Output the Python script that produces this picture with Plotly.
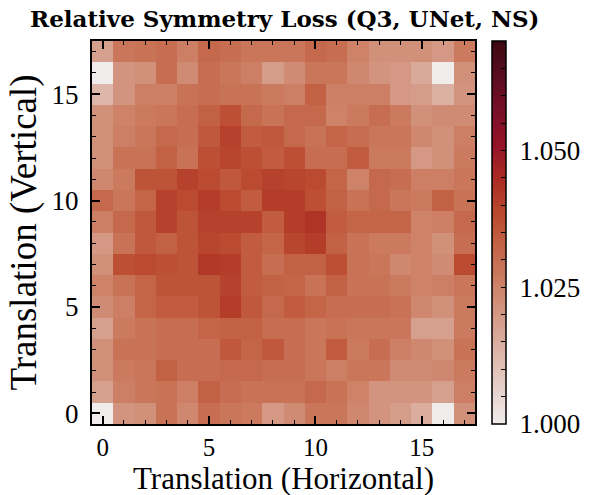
import plotly.graph_objects as go

x_vals = list(range(18))
y_vals = list(range(18))

row_00 = [1.000,1.021,1.022,1.029,1.024,1.030,1.028,1.027,1.020,1.023,1.028,1.028,1.024,1.021,1.019,1.015,1.000,1.022]
row_01 = [1.018,1.026,1.028,1.029,1.026,1.033,1.030,1.029,1.029,1.029,1.031,1.029,1.025,1.021,1.021,1.021,1.018,1.026]
row_02 = [1.022,1.027,1.028,1.033,1.030,1.030,1.031,1.031,1.030,1.030,1.028,1.026,1.028,1.028,1.023,1.023,1.024,1.027]
row_03 = [1.022,1.029,1.029,1.030,1.030,1.030,1.035,1.032,1.035,1.030,1.028,1.034,1.027,1.030,1.026,1.024,1.022,1.029]
row_04 = [1.018,1.027,1.029,1.030,1.030,1.032,1.033,1.033,1.030,1.030,1.028,1.029,1.028,1.028,1.028,1.018,1.018,1.027]
row_05 = [1.023,1.026,1.032,1.034,1.034,1.036,1.041,1.035,1.031,1.034,1.032,1.030,1.030,1.030,1.029,1.024,1.022,1.027]
row_06 = [1.025,1.029,1.032,1.036,1.036,1.036,1.040,1.034,1.033,1.032,1.029,1.033,1.029,1.029,1.027,1.025,1.026,1.028]
row_07 = [1.022,1.037,1.038,1.037,1.036,1.042,1.041,1.034,1.030,1.033,1.033,1.037,1.029,1.028,1.024,1.025,1.023,1.038]
row_08 = [1.020,1.029,1.035,1.033,1.036,1.039,1.038,1.034,1.032,1.039,1.041,1.033,1.029,1.027,1.027,1.025,1.022,1.030]
row_09 = [1.026,1.031,1.035,1.040,1.036,1.040,1.040,1.040,1.034,1.041,1.043,1.034,1.032,1.032,1.032,1.025,1.026,1.031]
row_10 = [1.031,1.028,1.032,1.040,1.038,1.041,1.038,1.034,1.041,1.041,1.037,1.033,1.029,1.031,1.028,1.027,1.033,1.029]
row_11 = [1.024,1.027,1.036,1.036,1.040,1.038,1.035,1.038,1.040,1.039,1.038,1.032,1.025,1.031,1.030,1.026,1.026,1.028]
row_12 = [1.022,1.029,1.029,1.033,1.029,1.037,1.039,1.037,1.034,1.037,1.030,1.030,1.034,1.027,1.027,1.020,1.022,1.027]
row_13 = [1.022,1.026,1.028,1.031,1.030,1.035,1.040,1.034,1.035,1.031,1.029,1.032,1.030,1.028,1.028,1.024,1.022,1.026]
row_14 = [1.022,1.025,1.027,1.028,1.030,1.033,1.037,1.031,1.029,1.031,1.031,1.025,1.027,1.030,1.027,1.022,1.023,1.023]
row_15 = [1.013,1.021,1.026,1.026,1.029,1.030,1.029,1.029,1.027,1.026,1.033,1.026,1.026,1.026,1.020,1.019,1.014,1.021]
row_16 = [1.000,1.021,1.022,1.030,1.023,1.030,1.028,1.026,1.019,1.023,1.028,1.028,1.024,1.021,1.020,1.016,1.000,1.022]
row_17 = [1.018,1.028,1.029,1.030,1.026,1.031,1.030,1.028,1.028,1.028,1.031,1.030,1.025,1.022,1.022,1.022,1.020,1.027]

z = [row_00, row_01, row_02, row_03, row_04, row_05, row_06, row_07, row_08,
     row_09, row_10, row_11, row_12, row_13, row_14, row_15, row_16, row_17]

axis_ticks = [0, 5, 10, 15]
cbar_major = [1.000, 1.025, 1.050]
cbar_ticks = [round(1.000 + 0.005 * i, 3) for i in range(14)]
cbar_text = [(" %.3f" % v) if any(abs(v - m) < 1e-9 for m in cbar_major) else "" for v in cbar_ticks]

FONT = "Liberation Serif"

fig = go.Figure(go.Heatmap(
    x=x_vals, y=y_vals, z=z,
    colorscale="amp", zmin=1.0, zmax=1.07,
    colorbar=dict(
        x=1.041, xanchor="left", xref="paper",
        y=0.5, yanchor="middle", len=1.0, lenmode="fraction",
        thickness=14, outlinewidth=1.5, outlinecolor="black",
        tickmode="array", tickvals=cbar_ticks, ticktext=cbar_text,
        ticks="inside", ticklen=5, tickwidth=1, tickcolor="black",
        tickfont=dict(family=FONT, size=27, color="black"),
        ypad=0, xpad=0,
    ),
))

axis_common = dict(
    tickmode="array", tickvals=axis_ticks,
    ticks="inside", ticklen=8, tickwidth=1.5, tickcolor="black",
    minor=dict(dtick=1, ticks="inside", ticklen=4, tickwidth=1, tickcolor="black"),
    showline=True, linecolor="black", linewidth=2, mirror="allticks",
    showgrid=False, zeroline=False,
    tickfont=dict(family=FONT, size=27, color="black"),
    range=[-0.5, 17.5],
    automargin=False,
)

fig.update_layout(
    width=597, height=495,
    margin=dict(l=92, r=121, t=41, b=71),
    paper_bgcolor="white", plot_bgcolor="white",
    title=dict(text="<b>Relative Symmetry Loss (Q3, UNet, NS)</b>",
               x=0.477, xanchor="center", y=0.962, yanchor="middle",
               font=dict(family="DejaVu Serif", size=23, color="black")),
    xaxis=dict(axis_common, tickfont=dict(family=FONT, size=25, color="black")),
    yaxis=dict(axis_common, ticklabelstandoff=6,
               title=dict(text="Translation (Vertical)", standoff=4,
                          font=dict(family=FONT, size=37, color="black"))),
    annotations=[dict(
        text="Translation (Horizontal)", showarrow=False,
        xref="paper", yref="paper", x=0.5, y=-0.0945,
        xanchor="center", yanchor="top", borderpad=0,
        font=dict(family=FONT, size=31, color="black"),
    )],
)

fig.write_html("out.html")
